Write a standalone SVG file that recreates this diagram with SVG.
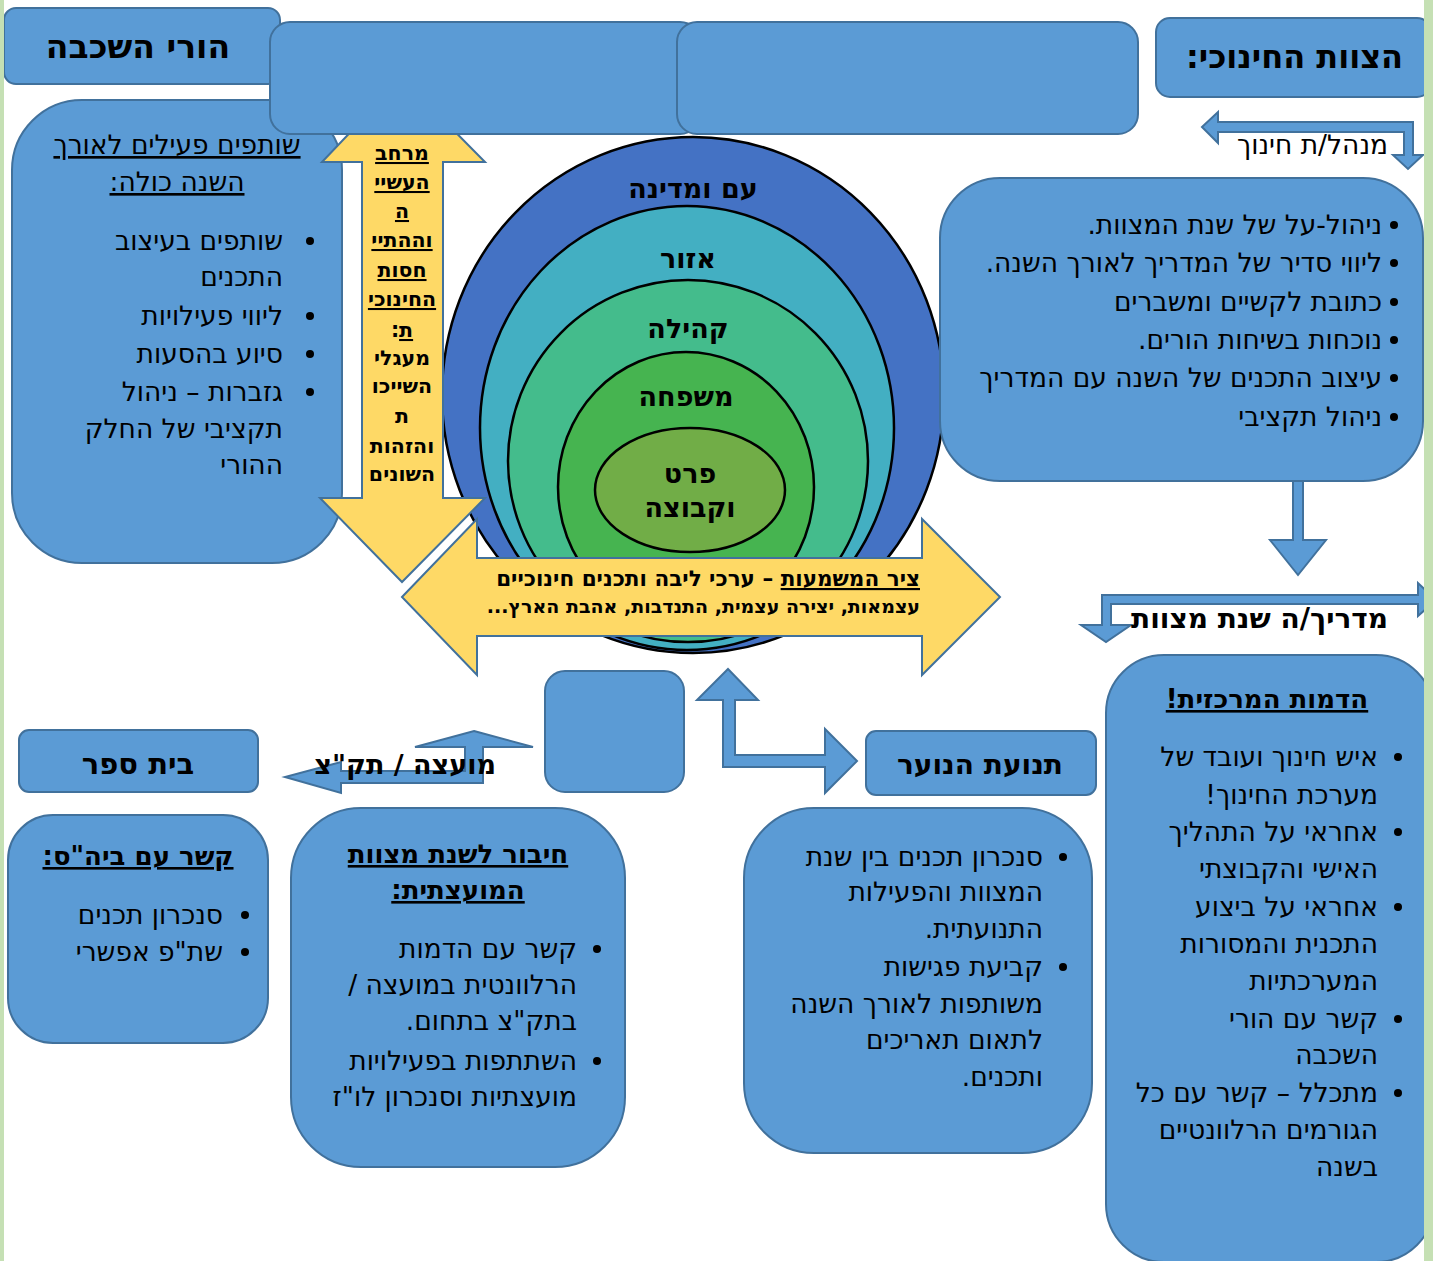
<svg xmlns="http://www.w3.org/2000/svg" width="1433" height="1261" viewBox="0 0 1433 1261">
<style>
.box{fill:#5b9bd5;stroke:#41719c;stroke-width:2}
.arr{fill:#5b9bd5;stroke:#41719c;stroke-width:2}
.yel{fill:#fed966;stroke:#41719c;stroke-width:2}
.ring{stroke:#000;stroke-width:2.5}
text{font-family:"DejaVu Sans","Liberation Sans",sans-serif;fill:#000;direction:rtl}
.t{font-size:26.5px}
.h{font-size:26px;font-weight:bold}
.r{text-anchor:start}
.c{text-anchor:middle}
.b{font-weight:bold}
.u{text-decoration:underline}
.v{font-size:20.5px;font-weight:bold;text-anchor:middle}
.ct{font-size:27px;font-weight:bold;text-anchor:middle}
.dot{fill:#000}
</style>
<rect width="1433" height="1261" fill="#ffffff"/>

<g id="parents-box">
<rect class="box" x="12" y="100" width="330" height="463" rx="70"/>
<text class="t c u" x="177" y="154">שותפים פעילים לאורך</text>
<text class="t c u" x="177" y="191">השנה כולה:</text>
<circle class="dot" cx="310" cy="241" r="4"/>
<circle class="dot" cx="310" cy="316" r="4"/>
<circle class="dot" cx="310" cy="354" r="4"/>
<circle class="dot" cx="310" cy="392" r="4"/>
<text class="t r" x="283" y="250">שותפים בעיצוב</text>
<text class="t r" x="283" y="286">התכנים</text>
<text class="t r" x="283" y="325">ליווי פעילויות</text>
<text class="t r" x="283" y="363">סיוע בהסעות</text>
<text class="t r" x="283" y="401">גזברות – ניהול</text>
<text class="t r" x="283" y="438">תקציבי של החלק</text>
<text class="t r" x="283" y="474">ההורי</text>
</g>

<g id="circles">
<ellipse class="ring" cx="693" cy="395" rx="251" ry="258" fill="#4472c4"/>
<ellipse class="ring" cx="687" cy="428" rx="207" ry="222" fill="#43afc2"/>
<ellipse class="ring" cx="688" cy="461" rx="180" ry="181" fill="#44bc8c"/>
<ellipse class="ring" cx="686" cy="487" rx="128" ry="135" fill="#46b450"/>
<ellipse class="ring" cx="690" cy="490" rx="95" ry="62" fill="#71ad47"/>
<text class="ct" x="693" y="198">עם ומדינה</text>
<text class="ct" x="688" y="268">אזור</text>
<text class="ct" x="688" y="338">קהילה</text>
<text class="ct" x="686" y="406">משפחה</text>
<text class="ct" x="690" y="483">פרט</text>
<text class="ct" x="690" y="517">וקבוצה</text>
</g>

<g id="vertical-axis">
<polygon class="yel" points="402,78 485,162 443,162 443,498 485,498 402,582 320,498 362,498 362,162 322,162"/>
<text class="v u" x="402" y="160">מרחב</text>
<text class="v u" x="402" y="189">העשיי</text>
<text class="v u" x="402" y="218">ה</text>
<text class="v u" x="402" y="247">וההתיי</text>
<text class="v u" x="402" y="277">חסות</text>
<text class="v u" x="402" y="306">החינוכי</text>
<text class="v" x="402" y="337"><tspan class="u">ת</tspan>:</text>
<text class="v" x="402" y="365">מעגלי</text>
<text class="v" x="402" y="393">השייכו</text>
<text class="v" x="402" y="423">ת</text>
<text class="v" x="402" y="453">והזהות</text>
<text class="v" x="402" y="481">השונים</text>
</g>

<g id="meaning-axis">
<polygon class="yel" points="402,597 477,519 477,558 922,558 922,519 1000,597 922,675 922,636 477,636 477,675"/>
<text class="b r" x="920" y="586" font-size="21.5"><tspan class="u">ציר המשמעות</tspan> – ערכי ליבה ותכנים חינוכיים</text>
<text class="b r" x="920" y="613" font-size="19">עצמאות, יצירה עצמית, התנדבות, אהבת הארץ...</text>
</g>

<g id="parents-title">
<rect class="box" x="4" y="8" width="276" height="76" rx="12"/>
<text class="b c" x="138" y="58" font-size="33">הורי השכבה</text>
</g>

<g id="empty-box-1">
<rect class="box" x="270" y="22" width="430" height="112" rx="20"/>
</g>
<g id="empty-box-2">
<rect class="box" x="677" y="22" width="461" height="112" rx="20"/>
</g>

<g id="staff-title">
<rect class="box" x="1156" y="18" width="275" height="79" rx="14"/>
<text class="b r" x="1403" y="68" font-size="32">הצוות החינוכי:</text>
</g>

<g id="staff-box">
<rect class="box" x="940" y="178" width="483" height="303" rx="60"/>
<circle class="dot" cx="1394" cy="225" r="4"/>
<circle class="dot" cx="1394" cy="263" r="4"/>
<circle class="dot" cx="1394" cy="302" r="4"/>
<circle class="dot" cx="1394" cy="340" r="4"/>
<circle class="dot" cx="1394" cy="378" r="4"/>
<circle class="dot" cx="1394" cy="417" r="4"/>
<text class="t r" x="1382" y="234">ניהול-על של שנת המצוות.</text>
<text class="t r" x="1382" y="272">ליווי סדיר של המדריך לאורך השנה.</text>
<text class="t r" x="1382" y="311">כתובת לקשיים ומשברים</text>
<text class="t r" x="1382" y="349">נוכחות בשיחות הורים.</text>
<text class="t r" x="1382" y="387">עיצוב התכנים של השנה עם המדריך</text>
<text class="t r" x="1382" y="426">ניהול תקציבי</text>
</g>

<g id="madrich-box">
<rect class="box" x="1106" y="655" width="328" height="607" rx="58"/>
<text class="h c u" x="1267" y="708">הדמות המרכזית!</text>
<circle class="dot" cx="1398" cy="757" r="4"/>
<circle class="dot" cx="1398" cy="832" r="4"/>
<circle class="dot" cx="1398" cy="907" r="4"/>
<circle class="dot" cx="1398" cy="1019" r="4"/>
<circle class="dot" cx="1398" cy="1093" r="4"/>
<text class="t r" x="1378" y="766">איש חינוך ועובד של</text>
<text class="t r" x="1378" y="804">מערכת החינוך!</text>
<text class="t r" x="1378" y="841">אחראי על התהליך</text>
<text class="t r" x="1378" y="878">האישי והקבוצתי</text>
<text class="t r" x="1378" y="916">אחראי על ביצוע</text>
<text class="t r" x="1378" y="953">התכנית והמסורות</text>
<text class="t r" x="1378" y="990">המערכתיות</text>
<text class="t r" x="1378" y="1028">קשר עם הורי</text>
<text class="t r" x="1378" y="1064">השכבה</text>
<text class="t r" x="1378" y="1102">מתכלל – קשר עם כל</text>
<text class="t r" x="1378" y="1139">הגורמים הרלוונטיים</text>
<text class="t r" x="1378" y="1176">בשנה</text>
</g>

<g id="center-box">
<rect class="box" x="545" y="671" width="139" height="121" rx="20"/>
</g>

<g id="youth-title">
<rect class="box" x="866" y="731" width="230" height="64" rx="10"/>
<text class="b c" x="980" y="774" font-size="28">תנועת הנוער</text>
</g>

<g id="youth-box">
<rect class="box" x="744" y="808" width="348" height="345" rx="70"/>
<circle class="dot" cx="1063" cy="857" r="4"/>
<circle class="dot" cx="1063" cy="967" r="4"/>
<text class="t r" x="1043" y="866">סנכרון תכנים בין שנת</text>
<text class="t r" x="1043" y="901">המצוות והפעילות</text>
<text class="t r" x="1043" y="938">התנועתית.</text>
<text class="t r" x="1043" y="976">קביעת פגישות</text>
<text class="t r" x="1043" y="1013">משותפות לאורך השנה</text>
<text class="t r" x="1043" y="1049">לתאום תאריכים</text>
<text class="t r" x="1043" y="1086">ותכנים.</text>
</g>

<g id="school-title">
<rect class="box" x="19" y="730" width="239" height="62" rx="10"/>
<text class="b c" x="138" y="774" font-size="29">בית ספר</text>
</g>

<g id="school-box">
<rect class="box" x="8" y="815" width="260" height="228" rx="45"/>
<text class="h c u" x="138" y="865">קשר עם ביה"ס:</text>
<circle class="dot" cx="245" cy="915" r="4"/>
<circle class="dot" cx="245" cy="952" r="4"/>
<text class="t r" x="223" y="924">סנכרון תכנים</text>
<text class="t r" x="223" y="961">שת"פ אפשרי</text>
</g>

<g id="council-box">
<rect class="box" x="291" y="808" width="334" height="359" rx="70"/>
<text class="h c u" x="458" y="863">חיבור לשנת מצוות</text>
<text class="h c u" x="458" y="899">המועצתית:</text>
<circle class="dot" cx="597" cy="949" r="4"/>
<circle class="dot" cx="597" cy="1061" r="4"/>
<text class="t r" x="577" y="958">קשר עם הדמות</text>
<text class="t r" x="577" y="994">הרלוונטית במועצה /</text>
<text class="t r" x="577" y="1030">בתק"צ בתחום.</text>
<text class="t r" x="577" y="1070">השתתפות בפעילויות</text>
<text class="t r" x="577" y="1106">מועצתיות וסנכרון לו"ז</text>
</g>

<g id="connectors">
<polygon class="arr" points="1202,127 1218,112 1218,122 1413,122 1413,155 1423,155 1408,169 1393,155 1404,155 1404,132 1218,132 1218,143"/>
<polygon class="arr" points="1293,481 1303,481 1303,540 1326,540 1298,575 1270,540 1293,540"/>
<polygon class="arr" points="1102,595 1418,595 1418,583 1436,600 1418,616 1418,604 1111,604 1111,625 1131,625 1106,642 1081,625 1102,625"/>
<polygon class="arr" points="728,669 758,700 735,700 735,755 825,755 825,729 857,761 825,793 825,767 723,767 723,700 697,700"/>
<polygon class="arr" points="474,731 533,747 483,747 483,783 341,783 341,793 285,777 341,762 341,771 465,771 465,747 415,747"/>
</g>

<g id="principal-label">
<text class="t r" x="1388" y="154">מנהל/ת חינוך</text>
</g>
<g id="madrich-label">
<text class="b r" x="1388" y="628" font-size="28">מדריך/ה שנת מצוות</text>
</g>
<g id="council-label">
<text class="b r" x="496" y="774" font-size="27">מועצה / תק"צ</text>
</g>

<rect x="0" y="0" width="4" height="1261" fill="#c5e0b4"/>
<rect x="1424" y="0" width="9" height="1261" fill="#c5e0b4"/>
</svg>
